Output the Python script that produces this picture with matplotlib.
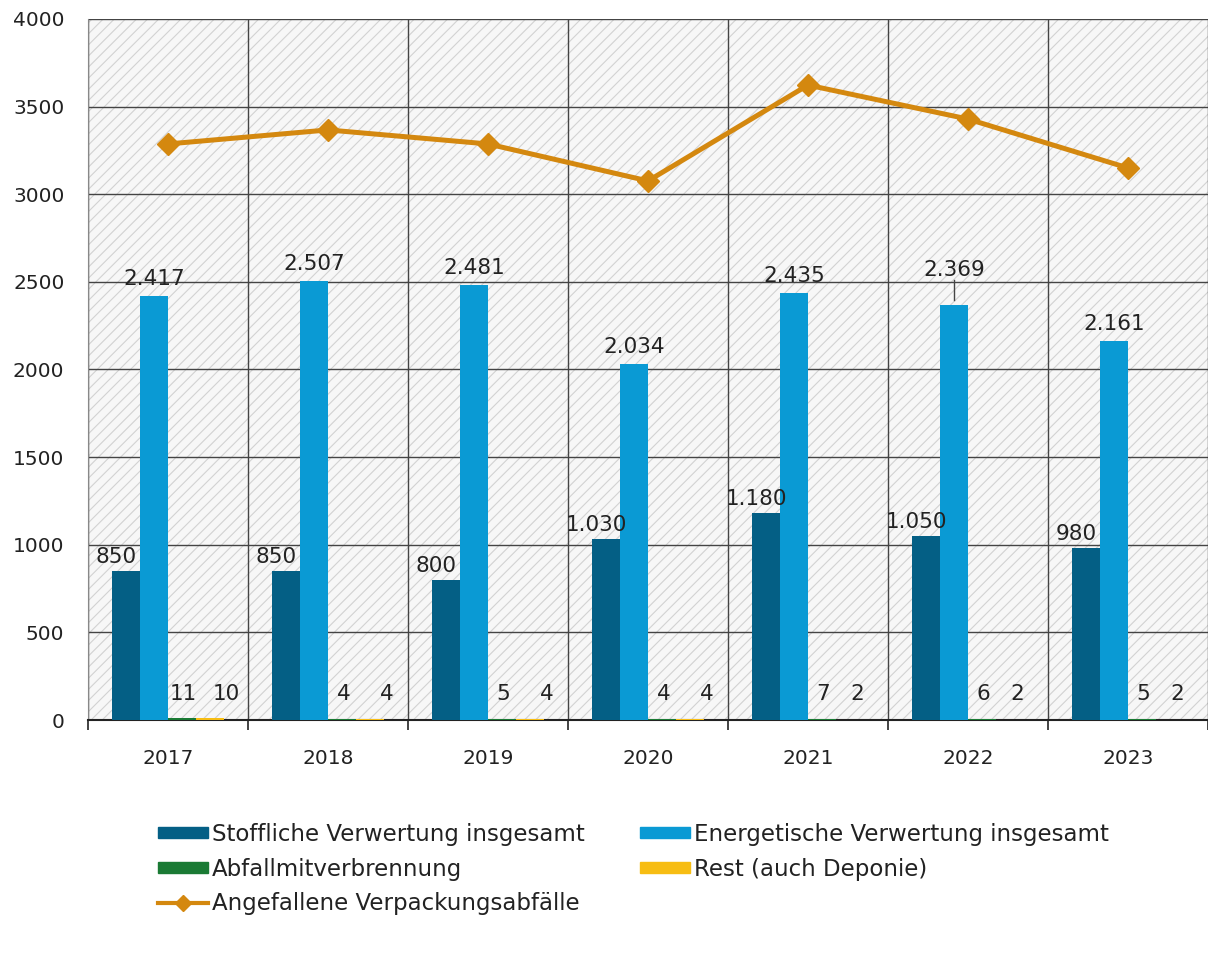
import matplotlib
matplotlib.use("Agg")
import matplotlib.pyplot as plt
import numpy as np
from matplotlib.patches import Rectangle, Patch
from matplotlib.lines import Line2D

years = ["2017", "2018", "2019", "2020", "2021", "2022", "2023"]
stofflich = [850, 850, 800, 1030, 1180, 1050, 980]
energetisch = [2417, 2507, 2481, 2034, 2435, 2369, 2161]
mitverbrennung = [11, 4, 5, 4, 7, 6, 5]
rest = [10, 4, 4, 4, 2, 2, 2]
angefallen = [3287, 3367, 3287, 3076, 3623, 3429, 3150]

C_DARK = "#045f85"
C_LIGHT = "#0a9ad4"
C_GREEN = "#1a7a34"
C_YELLOW = "#f7bd13"
C_LINE = "#d4880f"

plt.rcParams["font.family"] = ["DejaVu Sans"]
plt.rcParams["hatch.linewidth"] = 0.8


def de_fmt(v):
    """german thousands separator"""
    return f"{v:,}".replace(",", ".")


fig = plt.figure(figsize=(12.08, 9.56), dpi=100)
ax = fig.add_axes([88 / 1208, 236 / 956, 1 - 88 / 1208, (720 - 19) / 956])

# hatched background
bg = Rectangle((0, 0), 1, 1, transform=ax.transAxes, facecolor="#f7f7f7",
               edgecolor="#d2d2d2", hatch="///", linewidth=0, zorder=0)
ax.add_patch(bg)

x = np.arange(len(years))
w = 0.175
ax.bar(x - 1.5 * w, stofflich, w, color=C_DARK, zorder=3)
ax.bar(x - 0.5 * w, energetisch, w, color=C_LIGHT, zorder=3)
ax.bar(x + 0.5 * w, mitverbrennung, w, color=C_GREEN, zorder=3)
ax.bar(x + 1.5 * w, rest, w, color=C_YELLOW, zorder=3)
ax.plot(x, angefallen, color=C_LINE, linewidth=3.6, marker="D",
        markersize=11, zorder=4)

fs = 14.5
lfs = 15.5
tc = "#222222"
for i in range(len(years)):
    ax.annotate(de_fmt(stofflich[i]), (x[i] - 1.5 * w, stofflich[i]),
                xytext=(-7, 3), textcoords="offset points",
                ha="center", va="bottom", fontsize=lfs, color=tc, zorder=5)
    off = 18 if i == 5 else 5
    ax.annotate(de_fmt(energetisch[i]), (x[i] - 0.5 * w, energetisch[i]),
                xytext=(0, off), textcoords="offset points",
                ha="center", va="bottom", fontsize=lfs, color=tc, zorder=5)
    ax.annotate(str(mitverbrennung[i]), (x[i] + 0.5 * w, 0),
                xytext=(1, 19), textcoords="offset points",
                ha="center", va="center", fontsize=lfs, color=tc, zorder=5)
    ax.annotate(str(rest[i]), (x[i] + 1.5 * w, 0),
                xytext=(12 if i < 4 else 5, 19), textcoords="offset points",
                ha="center", va="center", fontsize=lfs, color=tc, zorder=5)

# leader line for 2022 label
ax.plot([x[5] - 0.5 * w] * 2, [energetisch[5] + 30, energetisch[5] + 140],
        color="#444444", linewidth=1, zorder=5)

ax.set_xlim(-0.5, len(years) - 0.5)
ax.set_ylim(0, 4000)
ax.set_yticks(range(0, 4001, 500))
ax.set_xticks(x)
ax.set_xticklabels(years)
ax.set_xticks(np.arange(-0.5, len(years), 1), minor=True)
ax.tick_params(axis="y", length=0, pad=17, labelsize=fs, labelcolor=tc)
ax.tick_params(axis="x", which="major", length=0, pad=21, labelsize=fs,
               labelcolor=tc)
ax.tick_params(axis="x", which="minor", length=7, width=1.2, color=tc)

ax.grid(axis="y", which="major", color="#444444", linewidth=1, zorder=1)
ax.grid(axis="x", which="minor", color="#444444", linewidth=1, zorder=1)
ax.set_axisbelow(True)

for side in ["top", "right"]:
    ax.spines[side].set_visible(False)
ax.spines["left"].set_color("#888888")
ax.spines["bottom"].set_color(tc)
ax.spines["bottom"].set_linewidth(1.5)

handles = [
    Patch(color=C_DARK, label="Stoffliche Verwertung insgesamt"),
    Patch(color=C_GREEN, label="Abfallmitverbrennung"),
    Line2D([], [], color=C_LINE, linewidth=3, marker="D", markersize=8,
           label="Angefallene Verpackungsabfälle"),
    Patch(color=C_LIGHT, label="Energetische Verwertung insgesamt"),
    Patch(color=C_YELLOW, label="Rest (auch Deponie)"),
]
fig.legend(handles=handles, ncol=2, loc="upper left",
           bbox_to_anchor=(137 / 1208, 1 - 802 / 956), frameon=False,
           fontsize=16.5, handlelength=2.2, handleheight=0.4,
           handletextpad=0.17, labelspacing=0.52, columnspacing=2.4,
           labelcolor=tc)

fig.savefig("out.png", dpi=100)
